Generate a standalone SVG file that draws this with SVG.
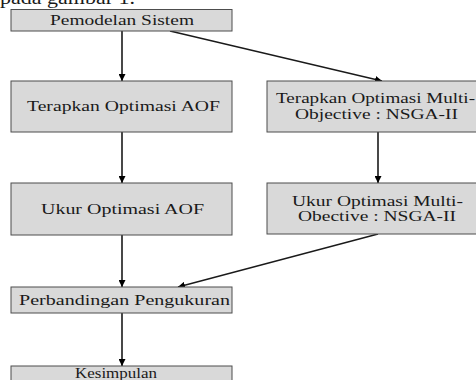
<svg xmlns="http://www.w3.org/2000/svg" width="476" height="380" viewBox="0 0 476 380">
<style>
.box{fill:#d9d9d9;stroke:#4d4d4d;stroke-width:1}
.t{font-family:'Liberation Serif','DejaVu Serif',serif;font-size:14.5px;fill:#1a1a1a}
.c{stroke:#1a1a1a;stroke-width:1.3;fill:none}
.v{stroke-width:1.6}
</style>
<defs>
<marker id="ah" viewBox="0 0 10 10" refX="10" refY="5" markerWidth="7" markerHeight="7" markerUnits="userSpaceOnUse" orient="auto">
<path d="M0,0 L10,5 L0,10 z" fill="#000"/>
</marker>
</defs>
<rect width="476" height="380" fill="#fff"/>
<text class="t" x="0" y="4" textLength="135" lengthAdjust="spacingAndGlyphs" style="font-size:19px">pada gambar 1.</text>
<g id="connectors">
<line class="c v" x1="122" y1="31" x2="122" y2="81" marker-end="url(#ah)"/>
<line class="c" x1="170" y1="31" x2="382" y2="81" marker-end="url(#ah)"/>
<line class="c v" x1="122" y1="132" x2="122" y2="183" marker-end="url(#ah)"/>
<line class="c v" x1="378" y1="132" x2="378" y2="183" marker-end="url(#ah)"/>
<line class="c v" x1="122" y1="235" x2="122" y2="287" marker-end="url(#ah)"/>
<line class="c" x1="378" y1="234" x2="178" y2="287" marker-end="url(#ah)"/>
<line class="c v" x1="122" y1="313" x2="122" y2="366" marker-end="url(#ah)"/>
</g>
<g id="n1">
<rect class="box" x="11" y="9.5" width="221" height="21.5"/>
<text class="t" x="50" y="24.5" textLength="144" lengthAdjust="spacingAndGlyphs">Pemodelan Sistem</text>
</g>
<g id="n2">
<rect class="box" x="11" y="81" width="221" height="51"/>
<text class="t" x="27" y="111" textLength="193" lengthAdjust="spacingAndGlyphs">Terapkan Optimasi AOF</text>
</g>
<g id="n3">
<rect class="box" x="267" y="81" width="210" height="51"/>
<text class="t" x="276" y="103" textLength="199" lengthAdjust="spacingAndGlyphs">Terapkan Optimasi Multi-</text>
<text class="t" x="295" y="119" textLength="163" lengthAdjust="spacingAndGlyphs">Objective : NSGA-II</text>
</g>
<g id="n4">
<rect class="box" x="11" y="183" width="221" height="52"/>
<text class="t" x="41" y="214" textLength="163" lengthAdjust="spacingAndGlyphs">Ukur Optimasi AOF</text>
</g>
<g id="n5">
<rect class="box" x="267" y="183" width="210" height="51"/>
<text class="t" x="292" y="206" textLength="171" lengthAdjust="spacingAndGlyphs">Ukur Optimasi Multi-</text>
<text class="t" x="298" y="221" textLength="158" lengthAdjust="spacingAndGlyphs">Obective : NSGA-II</text>
</g>
<g id="n6">
<rect class="box" x="11" y="287" width="221" height="26"/>
<text class="t" x="19" y="305" textLength="211" lengthAdjust="spacingAndGlyphs">Perbandingan Pengukuran</text>
</g>
<g id="n7">
<rect class="box" x="11" y="366" width="221" height="20"/>
<text class="t" x="75" y="378" textLength="82" lengthAdjust="spacingAndGlyphs">Kesimpulan</text>
</g>
</svg>
